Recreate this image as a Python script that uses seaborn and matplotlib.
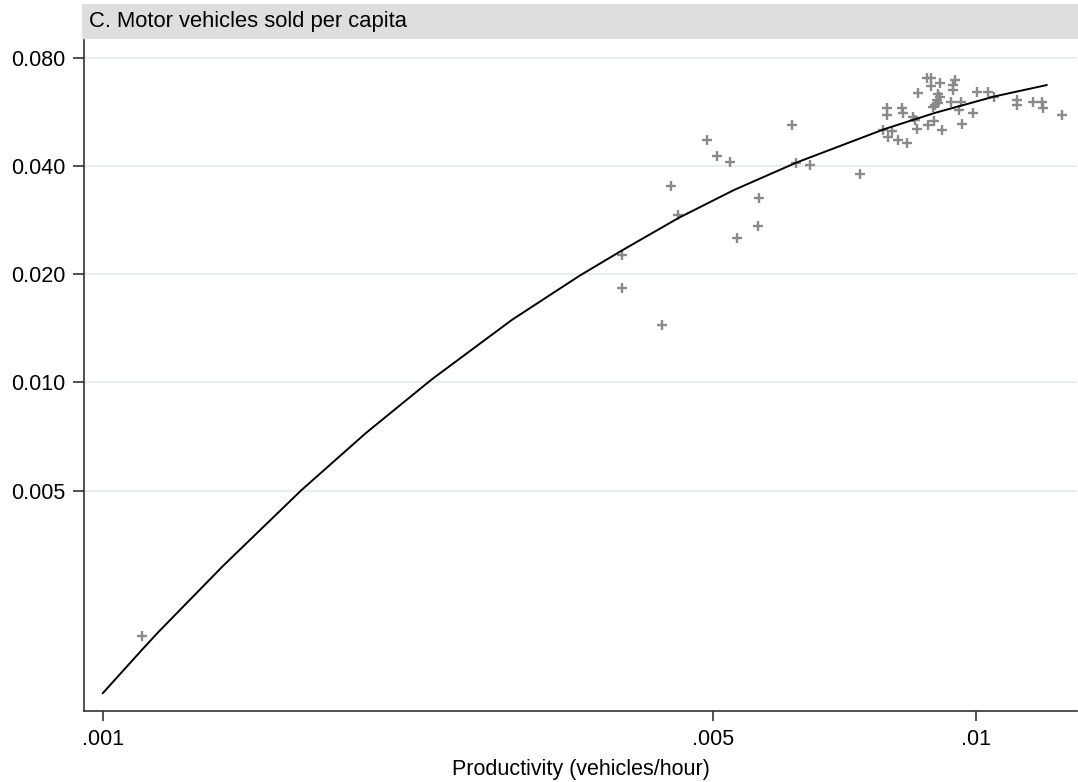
import matplotlib
matplotlib.use("Agg")
import matplotlib.pyplot as plt
from matplotlib.patches import Rectangle
import seaborn as sns
import pandas as pd

# ---- data ----
productivity = [
    0.001108, 0.003930, 0.003930, 0.004367, 0.004473, 0.004564, 0.004927, 0.005050,
    0.005231, 0.005323, 0.005627, 0.005649, 0.006160, 0.006220, 0.006459, 0.007362,
    0.007834, 0.008010, 0.007939, 0.008150, 0.008346, 0.007907, 0.007907, 0.008224,
    0.008260, 0.008479, 0.008518, 0.008555, 0.008821, 0.008954, 0.009137, 0.009636,
    0.009933, 0.008592, 0.008779, 0.008885, 0.008885, 0.009099, 0.009467, 0.009424,
    0.009408, 0.009060, 0.009099, 0.009021, 0.008982, 0.008926, 0.009050, 0.009368,
    0.009616, 0.009554, 0.01004, 0.01033, 0.01049, 0.01115, 0.01115, 0.01164,
    0.01190, 0.01195, 0.01254,
]
vehicles_per_capita = [
    0.001970, 0.02262, 0.01827, 0.01444, 0.03525, 0.02922, 0.04724, 0.04264,
    0.04111, 0.02518, 0.02723, 0.03253, 0.05200, 0.04071, 0.04026, 0.03793,
    0.05037, 0.05014, 0.04825, 0.04724, 0.04643, 0.05789, 0.05545, 0.05789,
    0.05627, 0.05485, 0.05370, 0.05060, 0.05200, 0.05337, 0.05037, 0.05234,
    0.05606, 0.06365, 0.07017, 0.07017, 0.06677, 0.06820, 0.06940, 0.06720,
    0.06509, 0.06343, 0.06242, 0.06104, 0.05913, 0.05856, 0.05988, 0.06039,
    0.06039, 0.05727, 0.06438, 0.06438, 0.06211, 0.06104, 0.05913, 0.06039,
    0.06039, 0.05789, 0.05545,
]
# fitted curve, points
fit_x = [0.001000, 0.0011105, 0.0011581, 0.0013728, 0.0016884, 0.0020004,
         0.0023806, 0.002943, 0.0035199, 0.0039315, 0.0045685, 0.0052839,
         0.0062325, 0.0078628, 0.0089748, 0.010519, 0.012058]
fit_y = [0.001364, 0.0018084, 0.0020192, 0.0030818, 0.005010, 0.0072169,
         0.010186, 0.014932, 0.019832, 0.023276, 0.028703, 0.034298,
         0.040905, 0.050699, 0.056210, 0.062518, 0.067206]

y_ticks = [0.005, 0.010, 0.020, 0.040, 0.080]
y_tick_labels = ["0.005", "0.010", "0.020", "0.040", "0.080"]
x_ticks = [0.001, 0.005, 0.01]
x_tick_labels = [".001", ".005", ".01"]

title = "C. Motor vehicles sold per capita"
x_label = "Productivity (vehicles/hour)"

# ---- styling ----
sns.set_theme(style="white")
plt.rcParams["font.family"] = ["Liberation Sans", "DejaVu Sans"]
FS = 15.5

W, H = 1078, 782
fig = plt.figure(figsize=(W / 100, H / 100), dpi=100)
fig.patch.set_facecolor("white")

left, right, top, bottom = 84, 1077, 40, 711
ax = fig.add_axes([left / W, 1 - bottom / H, (right - left) / W, (bottom - top) / H])
ax.set_facecolor("white")

scatter_df = pd.DataFrame({"x": productivity, "y": vehicles_per_capita})
fit_df = pd.DataFrame({"x": fit_x, "y": fit_y})

sns.scatterplot(data=scatter_df, x="x", y="y", marker="+", s=56, linewidth=1.7,
                color="#8a8a8a", ax=ax, zorder=3, legend=False)
sns.lineplot(data=fit_df, x="x", y="y", color="black", linewidth=1.4,
             sort=False, estimator=None, ax=ax, zorder=4, legend=False)

ax.set_xscale("log")
ax.set_yscale("log")
ax.set_xlim(0.000952, 0.013055)
ax.set_ylim(0.001218, 0.08967)

ax.minorticks_off()
ax.set_xticks(x_ticks)
ax.set_xticklabels(x_tick_labels)
ax.set_yticks(y_ticks)
ax.set_yticklabels(y_tick_labels)
ax.xaxis.set_minor_locator(matplotlib.ticker.NullLocator())
ax.yaxis.set_minor_locator(matplotlib.ticker.NullLocator())

ax.tick_params(axis="y", which="major", left=True, length=8, width=1.2,
               color="#333333", pad=5.5, labelsize=FS, labelcolor="black")
ax.tick_params(axis="x", which="major", bottom=True, length=7.2, width=1.2,
               color="#333333", pad=5.5, labelsize=FS, labelcolor="black")

for yv in y_ticks:
    ax.axhline(yv, color="#e6eef1", linewidth=1.6, zorder=0)
ax.grid(False)

for side in ["top", "right"]:
    ax.spines[side].set_visible(False)
for side in ["left", "bottom"]:
    ax.spines[side].set_color("#333333")
    ax.spines[side].set_linewidth(1.2)

ax.set_xlabel(x_label, fontsize=FS, labelpad=7, color="black")
ax.set_ylabel("")

# title bar (Stata style)
bar_l, bar_t, bar_b = 81.6, 4, 39
fig.patches.append(Rectangle((bar_l / W, 1 - bar_b / H), 1 - bar_l / W, (bar_b - bar_t) / H,
                             transform=fig.transFigure, facecolor="#dedede",
                             edgecolor="none", zorder=0))
fig.text(89 / W, 1 - 22 / H, title, fontsize=15.8, ha="left", va="center", color="black")

fig.savefig("out.png", dpi=100, facecolor="white")
